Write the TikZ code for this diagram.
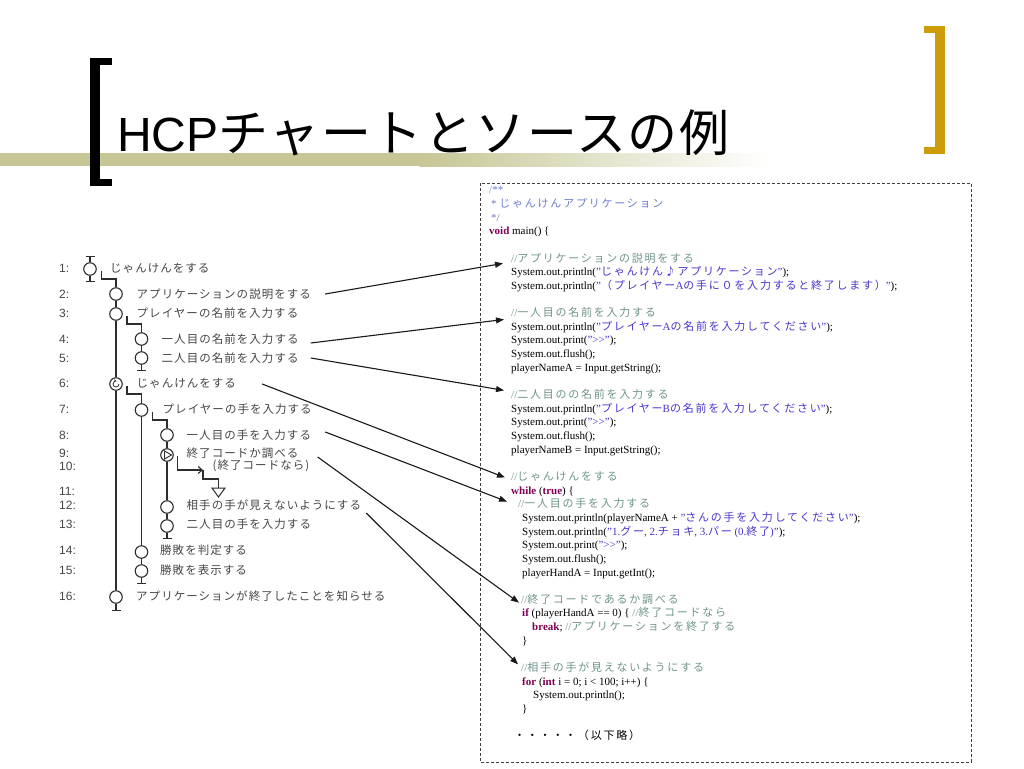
\documentclass[tikz,border=0pt]{standalone}
\usepackage{fontspec}
\setmainfont{Liberation Serif}
\newfontfamily\arial{Liberation Sans}
\newfontfamily\jpa{Noto Sans CJK JP}[LetterSpace=9]
\newfontfamily\jpc{Noto Sans CJK JP}[LetterSpace=16]
\newfontfamily\jpt{Noto Sans CJK JP}[LetterSpace=3]
\usetikzlibrary{arrows.meta,calc}
\definecolor{cmt}{RGB}{112,148,140}
\definecolor{docc}{RGB}{110,125,205}
\definecolor{strc}{RGB}{70,55,205}
\definecolor{kwc}{RGB}{128,0,85}
\definecolor{barol}{RGB}{198,198,150}
\definecolor{goldc}{RGB}{206,156,10}
\definecolor{chartline}{RGB}{45,45,45}
\definecolor{charttext}{RGB}{70,70,70}
\newcommand\Jc[1]{{\jpc #1}}
\newcommand\CCmt[1]{{\color{cmt}#1}}
\newcommand\CDoc[1]{{\color{docc}#1}}
\newcommand\CStr[1]{{\color{strc}#1}}
\newcommand\CKw[1]{{\color{kwc}\bfseries #1}}
\newcommand\codeln[3]{\node[codetext] (c#1) at (#2,{190+(#1-1)*13.65+3.8}) {#3};}
\tikzset{
  codetext/.style={anchor=base west, inner sep=0pt, text=black, font=\fontsize{11}{12}\selectfont},
  hc/.style={circle, draw=chartline, line width=1.1pt, minimum size=12.5pt, inner sep=0pt},
  ln/.style={draw=chartline, line width=1.1pt},
  lbl/.style={anchor=west, inner sep=0pt, text=charttext, font=\jpa\fontsize{11.5}{12}\selectfont},
  num/.style={anchor=west, inner sep=0pt, text=charttext, font=\arial\fontsize{12}{12}\selectfont},
  arr/.style={draw=black!90, line width=1.1pt, -{Triangle[length=8pt,width=6pt]}}
}
\begin{document}
\begin{tikzpicture}[x=1pt,y=-1pt]
\useasboundingbox (0,0) rectangle (1024,768);
\fill[white] (0,0) rectangle (1024,768);
% title bar
\fill[barol] (0,153) rectangle (420,166);
\shade[left color=barol, right color=white] (419.5,153) rectangle (770,166);
% brackets
\fill[black] (90,58) rectangle (100,186);
\fill[black] (90,58) rectangle (112,65);
\fill[black] (90,179) rectangle (112,186);
\fill[goldc] (935,26) rectangle (945,154);
\fill[goldc] (924,26) rectangle (945,33);
\fill[goldc] (924,147) rectangle (945,154);
\node[anchor=base west, inner sep=0pt] (title) at (117,151) {{\arial\fontsize{48}{48}\selectfont HCP}{\jpt\fontsize{50}{50}\selectfont チャートとソースの例}};
% code box
\draw[dash pattern=on 3pt off 2pt, line width=0.8pt, draw=black!75] (480,183) rectangle (971,762);
\codeln{1}{489}{\CDoc{/**}}
\codeln{2}{491}{\CDoc{* \Jc{じゃんけんアプリケーション}}}
\codeln{3}{491}{\CDoc{*/}}
\codeln{4}{489}{\CKw{void} main() \{}
\codeln{6}{511}{\CCmt{//\Jc{アプリケーションの説明をする}}}
\codeln{7}{511}{System.out.println(\CStr{"\Jc{じゃんけん♪アプリケーション}"});}
\codeln{8}{511}{System.out.println(\CStr{"\Jc{（プレイヤー}A\Jc{の手に０を入力すると終了します）}"});}
\codeln{10}{511}{\CCmt{//\Jc{一人目の名前を入力する}}}
\codeln{11}{511}{System.out.println(\CStr{"\Jc{プレイヤー}A\Jc{の名前を入力してください}"});}
\codeln{12}{511}{System.out.print(\CStr{">{}>"});}
\codeln{13}{511}{System.out.flush();}
\codeln{14}{511}{playerNameA = Input.getString();}
\codeln{16}{511}{\CCmt{//\Jc{二人目のの名前を入力する}}}
\codeln{17}{511}{System.out.println(\CStr{"\Jc{プレイヤー}B\Jc{の名前を入力してください}"});}
\codeln{18}{511}{System.out.print(\CStr{">{}>"});}
\codeln{19}{511}{System.out.flush();}
\codeln{20}{511}{playerNameB = Input.getString();}
\codeln{22}{511}{\CCmt{//\Jc{じゃんけんをする}}}
\codeln{23}{511}{\CKw{while} (\CKw{true}) \{}
\codeln{24}{518}{\CCmt{//\Jc{一人目の手を入力する}}}
\codeln{25}{522}{System.out.println(playerNameA + \CStr{"\Jc{さんの手を入力してください}"});}
\codeln{26}{522}{System.out.println(\CStr{"1.\Jc{グー}, 2.\Jc{チョキ}, 3.\Jc{パー} (0.\Jc{終了})"});}
\codeln{27}{522}{System.out.print(\CStr{">{}>"});}
\codeln{28}{522}{System.out.flush();}
\codeln{29}{522}{playerHandA = Input.getInt();}
\codeln{31}{521}{\CCmt{//\Jc{終了コードであるか調べる}}}
\codeln{32}{522}{\CKw{if} (playerHandA == 0) \{ \CCmt{//\Jc{終了コードなら}}}
\codeln{33}{532}{\CKw{break}; \CCmt{//\Jc{アプリケーションを終了する}}}
\codeln{34}{522}{\}}
\codeln{36}{521}{\CCmt{//\Jc{相手の手が見えないようにする}}}
\codeln{37}{522}{\CKw{for} (\CKw{int} i = 0; i < 100; i++) \{}
\codeln{38}{533}{System.out.println();}
\codeln{39}{522}{\}}
\codeln{41}{514}{\Jc{・・・・・（以下略）}}
% row numbers
\node[num] (k1) at (59,268) {1:};
\node[num] (k2) at (59,294) {2:};
\node[num] (k3) at (59,313) {3:};
\node[num] (k4) at (59,339) {4:};
\node[num] (k5) at (59,358) {5:};
\node[num] (k6) at (59,383) {6:};
\node[num] (k7) at (59,409) {7:};
\node[num] (k8) at (59,435) {8:};
\node[num] (k9) at (59,453) {9:};
\node[num] (k10) at (59,466) {10:};
\node[num] (k11) at (59,491) {11:};
\node[num] (k12) at (59,505) {12:};
\node[num] (k13) at (59,524) {13:};
\node[num] (k14) at (59,550) {14:};
\node[num] (k15) at (59,570) {15:};
\node[num] (k16) at (59,596) {16:};
% labels
\node[lbl] (l1) at (110,268) {じゃんけんをする};
\node[lbl] (l2) at (136.5,294) {アプリケーションの説明をする};
\node[lbl] (l3) at (136.5,313) {プレイヤーの名前を入力する};
\node[lbl] (l4) at (161.5,339) {一人目の名前を入力する};
\node[lbl] (l5) at (161.5,358) {二人目の名前を入力する};
\node[lbl] (l6) at (136.5,383) {じゃんけんをする};
\node[lbl] (l7) at (162.5,409) {プレイヤーの手を入力する};
\node[lbl] (l8) at (186.5,435) {一人目の手を入力する};
\node[lbl] (l9) at (186.5,453) {終了コードか調べる};
\node[lbl] (l10) at (212.5,466) {(終了コードなら)};
\node[lbl] (l12) at (186.5,505) {相手の手が見えないようにする};
\node[lbl] (l13) at (186.5,524) {二人目の手を入力する};
\node[lbl] (l14) at (160,550) {勝敗を判定する};
\node[lbl] (l15) at (160,570) {勝敗を表示する};
\node[lbl] (l16) at (136,596) {アプリケーションが終了したことを知らせる};
% circles
\node[hc] (n1) at (90,269) {};
\node[hc] (n2) at (116,294) {};
\node[hc] (n3) at (116,314) {};
\node[hc] (n4) at (141.5,339) {};
\node[hc] (n5) at (141.5,358) {};
\node[hc] (n6) at (116,384) {};
\node[hc] (n7) at (141.5,410) {};
\node[hc] (n8) at (167,435) {};
\node[hc] (n9) at (167,455) {};
\node[hc] (n12) at (167,507) {};
\node[hc] (n13) at (167,526) {};
\node[hc] (n14) at (141.5,552) {};
\node[hc] (n15) at (141.5,571) {};
\node[hc] (n16) at (116,597) {};
% chart connectors
\draw[ln] (n1.north) -- ++(0,-6) ++(-4.5,0) -- ++(9,0);
\draw[ln] (n1.south) -- ++(0,6) ++(-4.5,0) -- ++(9,0);
\draw[ln] ($(n1.center)+(11.5,2)$) -- ++(0,8) -| (n2.north);
\draw[ln] (n2) -- (n3);
\draw[ln] ($(n3.center)+(11,2)$) -- ++(0,8) -| (n4.north);
\draw[ln] (n4) -- (n5);
\draw[ln] (n5.south) -- ++(0,6) ++(-4.5,0) -- ++(9,0);
\draw[ln] (n3) -- (n6);
\draw[ln] (n6) -- (n16);
\draw[ln] (n16.south) -- ++(0,7) ++(-4.5,0) -- ++(9,0);
\draw[ln] ($(n6.center)+(11,2)$) -- ++(0,8) -| (n7.north);
\draw[ln] (n7) -- (n14);
\draw[ln] (n14) -- (n15);
\draw[ln] (n15.south) -- ++(0,6) ++(-4.5,0) -- ++(9,0);
\draw[ln] ($(n7.center)+(11,2)$) -- ++(0,8) -| (n8.north);
\draw[ln] (n8) -- (n9);
\draw[ln] (n9) -- (n12);
\draw[ln] (n12) -- (n13);
\draw[ln] (n13.south) -- ++(0,6) ++(-4.5,0) -- ++(9,0);
% symbols inside circles
\draw[line width=0.9pt, draw=chartline] ($(n9.center)+(-2.5,-4)$) -- ($(n9.center)+(4.5,0)$) -- ($(n9.center)+(-2.5,4)$) -- cycle;
\draw[line width=0.8pt, draw=chartline, -{Stealth[length=2.5pt,width=2.5pt]}] ($(n6.center)+(3,0)$) arc[start angle=0, end angle=280, radius=3];
% exit branch
\coordinate (ex) at (218.5,488);
\draw[ln, -{Straight Barb[length=4pt,width=7pt]}] ($(n9.center)+(10.5,1)$) -- ++(0,14) -- ++(25.5,0);
\draw[ln] ($(n9.center)+(36,15)$) -- ++(0,9) -| (ex);
\draw[ln, line width=1pt] ($(ex)+(-6.5,0)$) -- ($(ex)+(6.5,0)$) -- ($(ex)+(0,9)$) -- cycle;
% arrows to code
\draw[arr] ([shift={(14,0)}]l2.east) -- ([shift={(-8,5.5)}]c6.west);
\draw[arr] ([shift={(12,4)}]l4.east) -- ([shift={(-7,7)}]c10.west);
\draw[arr] ([shift={(12,0)}]l5.east) -- ([shift={(-7,-4)}]c16.west);
\draw[arr] ([shift={(26,1)}]l6.east) -- ([shift={(-6,1)}]c22.west);
\draw[arr] ([shift={(14,-3)}]l8.east) -- ([shift={(-11,-2)}]c24.west);
\draw[arr] ([shift={(19,4)}]l9.east) -- ([shift={(-2,3.5)}]c31.west);
\draw[arr] ([shift={(5,8)}]l12.east) -- ([shift={(-3,-3)}]c36.west);
\end{tikzpicture}
\end{document}
